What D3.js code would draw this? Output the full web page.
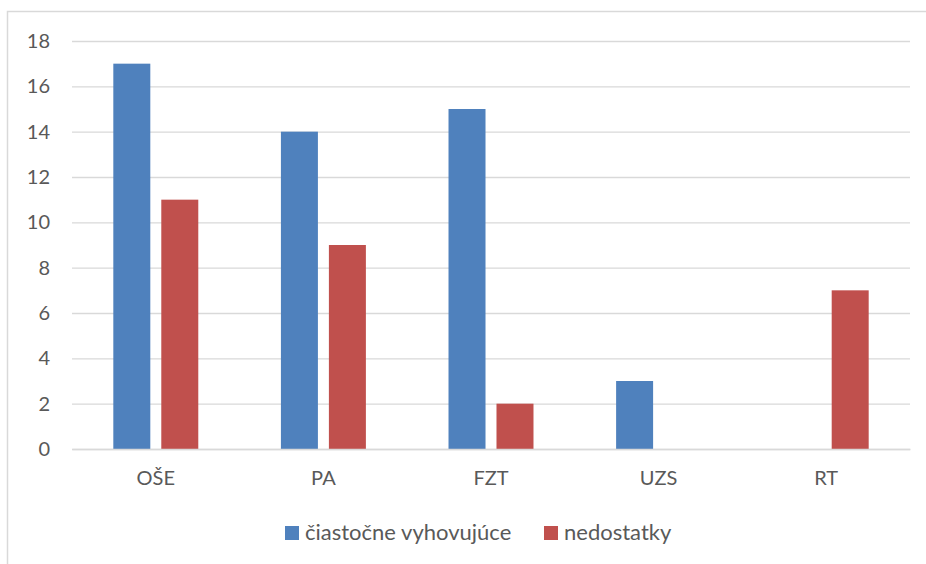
<!DOCTYPE html>
<html>
<head>
<meta charset="utf-8">
<script src="https://cdn.jsdelivr.net/npm/d3@7"></script>
<style>
  body { margin: 0; background: #fff; }
  text { font-family: "Lato", "Liberation Sans", sans-serif; fill: #595959; }
</style>
</head>
<body>
<div class="draw"></div>
<script>
const categories = ["OŠE", "PA", "FZT", "UZS", "RT"];
const seriesNames = ["čiastočne vyhovujúce", "nedostatky"];
const partial = [17, 14, 15, 3, 0];
const deficits = [11, 9, 2, 0, 7];
const yTicks = [0, 2, 4, 6, 8, 10, 12, 14, 16, 18];
const colors = ["#4F81BD", "#C0504D"];

const width = 926, height = 564;
const margin = { top: 41, right: 16, bottom: 115, left: 72 };
const graphWidth = width - margin.left - margin.right;
const graphHeight = height - margin.top - margin.bottom;

const svg = d3.select(".draw")
    .append("svg")
    .attr("width", width)
    .attr("height", height);

// chart border (runs off right and bottom edge)
svg.append("rect")
    .attr("x", 7.5)
    .attr("y", 11.5)
    .attr("width", 1000)
    .attr("height", 1000)
    .attr("fill", "none")
    .attr("stroke", "#D9D9D9")
    .attr("stroke-width", 1.5);

const graph = svg.append("g")
    .attr("transform", `translate(${margin.left}, ${margin.top})`);

const x0 = d3.scaleBand()
    .domain(categories)
    .range([0, graphWidth]);

const outer = x0.bandwidth() * 0.2465;
const x1 = d3.scaleBand()
    .domain(seriesNames)
    .range([outer, x0.bandwidth() - outer])
    .paddingInner(0.229);

const y = d3.scaleLinear()
    .domain([0, 18])
    .range([graphHeight, 0]);

// gridlines + y labels
const yAxis = d3.axisLeft(y)
    .tickValues(yTicks)
    .tickSize(-graphWidth)
    .tickPadding(22)
    .tickFormat(d => d);

const yAxisGroup = graph.append("g").call(yAxis);
yAxisGroup.select(".domain").remove();
yAxisGroup.selectAll("line").attr("stroke", "#D9D9D9").attr("stroke-width", 1.3);
yAxisGroup.selectAll("text")
    .attr("font-size", 20)
    .style("font-family", '"Lato", "Liberation Sans", sans-serif')
    .attr("fill", "#595959");

// bars
const rows = categories.map((c, i) => ({ cat: c, values: [partial[i], deficits[i]] }));

const groups = graph.selectAll(".grp")
    .data(rows)
    .enter().append("g")
    .attr("transform", d => `translate(${x0(d.cat)}, 0)`);

groups.selectAll("rect")
    .data(d => d.values.map((v, j) => ({ key: seriesNames[j], v, j })))
    .enter().append("rect")
    .attr("x", d => x1(d.key))
    .attr("width", x1.bandwidth())
    .attr("y", d => y(d.v))
    .attr("height", d => graphHeight - y(d.v))
    .attr("fill", d => colors[d.j]);

// x axis labels
const xAxis = d3.axisBottom(x0).tickSize(0).tickPadding(22);
const xAxisGroup = graph.append("g")
    .attr("transform", `translate(0, ${graphHeight})`)
    .call(xAxis);
xAxisGroup.select(".domain").attr("stroke", "#D9D9D9").attr("stroke-width", 1.3);
xAxisGroup.selectAll("text")
    .attr("font-size", 20)
    .style("font-family", '"Lato", "Liberation Sans", sans-serif')
    .attr("fill", "#595959");

// legend
const legendX = [285, 544];
const legend = svg.selectAll(".legend")
    .data(seriesNames)
    .enter().append("g")
    .attr("transform", (d, i) => `translate(${legendX[i]}, 526)`);
legend.append("rect")
    .attr("width", 14)
    .attr("height", 14)
    .attr("fill", (d, i) => colors[i]);
legend.append("text")
    .attr("x", 20)
    .attr("y", 14)
    .attr("font-size", 22)
    .text(d => d);
</script>
</body>
</html>
